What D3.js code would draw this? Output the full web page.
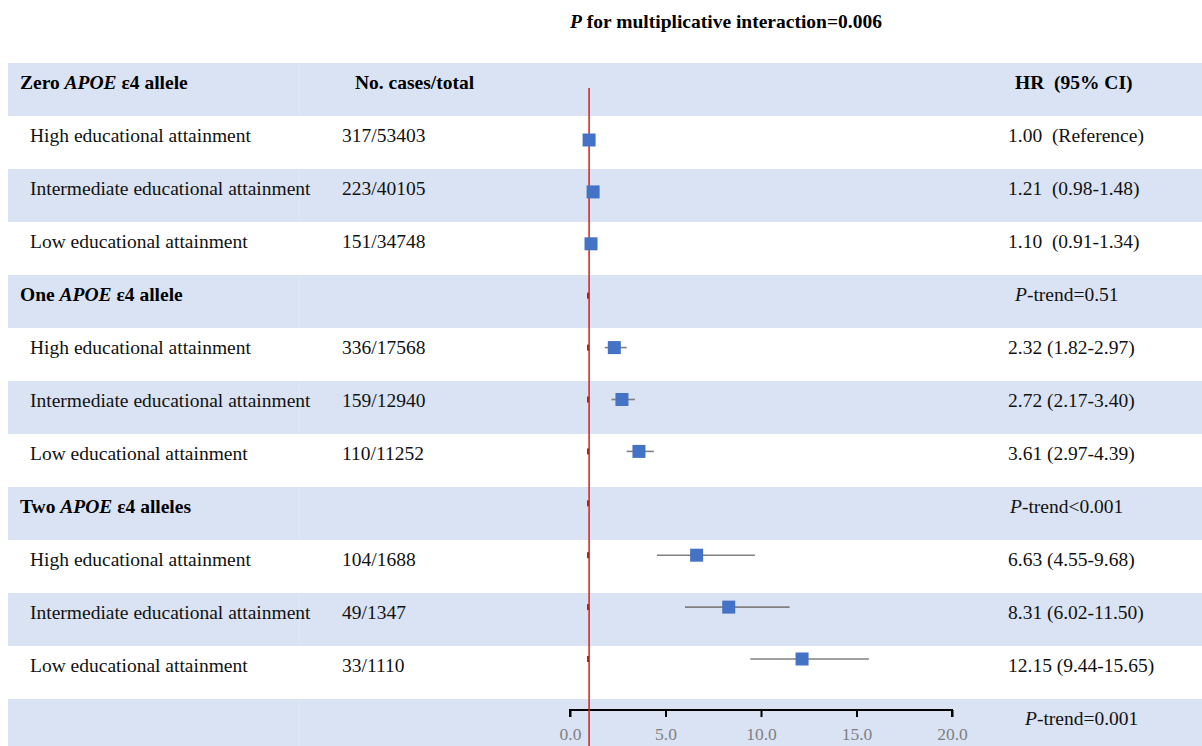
<!DOCTYPE html>
<html><head><meta charset="utf-8">
<script src="https://cdn.jsdelivr.net/npm/d3@7"></script>
<style>
html,body{margin:0;padding:0;background:#fff;}
svg text{font-family:"Liberation Serif","Times New Roman",serif;white-space:pre;}
</style></head>
<body><svg id="c" width="1202" height="746"></svg>
<script>
// ---------- data ----------
const title = "for multiplicative interaction=0.006";
const groupPrefix = ["Zero", "One", "Two"];
const groupSuffix = ["ε4 allele", "ε4 allele", "ε4 alleles"];
const levels = ["High educational attainment", "Intermediate educational attainment", "Low educational attainment"];
const cases = ["317/53403", "223/40105", "151/34748", "336/17568", "159/12940", "110/11252", "104/1688", "49/1347", "33/1110"];
const hr = [1.00, 1.21, 1.10, 2.32, 2.72, 3.61, 6.63, 8.31, 12.15];
const lower = [null, 0.98, 0.91, 1.82, 2.17, 2.97, 4.55, 6.02, 9.44];
const upper = [null, 1.48, 1.34, 2.97, 3.40, 4.39, 9.68, 11.50, 15.65];
const hrLabels = ["1.00  (Reference)", "1.21  (0.98-1.48)", "1.10  (0.91-1.34)", "2.32 (1.82-2.97)", "2.72 (2.17-3.40)", "3.61 (2.97-4.39)", "6.63 (4.55-9.68)", "8.31 (6.02-11.50)", "12.15 (9.44-15.65)"];
const pTrends = ["-trend=0.51", "-trend<0.001", "-trend=0.001"];
const xTicks = [0, 5, 10, 15, 20];
const refValue = 1;

// ---------- layout ----------
const svg = d3.select("#c");
const nRows = 13;
const rowY = d3.scaleLinear().domain([0, 12]).range([63, 699]);
const rowH = 53;
const markY = d3.scaleLinear().domain([1, 11]).range([140, 659]);
const x = d3.scaleLinear().domain([0, 20]).range([570, 952]);
const FS = 19.5;

// bands
const bandRows = d3.range(0, nRows, 2);
svg.append("g").selectAll("rect").data(bandRows).join("rect")
  .attr("x", 8).attr("y", d => rowY(d)).attr("width", 1202 - 8).attr("height", rowH)
  .attr("fill", "#dae3f3");
svg.append("g").selectAll("rect").data(bandRows).join("rect")
  .attr("x", 299).attr("y", d => rowY(d)).attr("width", 1).attr("height", rowH)
  .attr("fill", "#e0e7f5");

// title
const t = svg.append("text").attr("x", 570).attr("y", 28).attr("font-size", FS).attr("font-weight", "bold");
t.append("tspan").attr("font-style", "italic").text("P");
t.append("tspan").text(" " + title);

// header row
svg.append("text").attr("x", 355).attr("y", rowY(0) + 19).attr("dy", "0.35em")
  .attr("font-size", FS).attr("font-weight", "bold").text("No. cases/total");
svg.append("text").attr("x", 1015).attr("y", rowY(0) + 19).attr("dy", "0.35em")
  .attr("font-size", FS).attr("font-weight", "bold").text("HR  (95% CI)");

// group headers
groupPrefix.forEach((g, i) => {
  const tx = svg.append("text").attr("x", 20).attr("y", rowY(i * 4) + 19).attr("dy", "0.35em")
    .attr("font-size", FS).attr("font-weight", "bold");
  tx.append("tspan").text(g + " ");
  tx.append("tspan").attr("font-style", "italic").text("APOE");
  tx.append("tspan").text(" " + groupSuffix[i]);
});

// item rows
const items = hr.map((v, i) => ({
  i, row: Math.floor(i / 3) * 4 + (i % 3) + 1,
  label: levels[i % 3], cases: cases[i], hr: v, lo: lower[i], hi: upper[i], txt: hrLabels[i]
}));
const ig = svg.append("g");
ig.selectAll("text.lab").data(items).join("text").attr("class", "lab")
  .attr("x", 30).attr("y", d => rowY(d.row) + 19).attr("dy", "0.35em")
  .attr("font-size", FS).attr("fill", "#111").text(d => d.label);
ig.selectAll("text.cas").data(items).join("text").attr("class", "cas")
  .attr("x", 342).attr("y", d => rowY(d.row) + 19).attr("dy", "0.35em")
  .attr("font-size", FS).attr("fill", "#111").text(d => d.cases);
ig.selectAll("text.hr").data(items).join("text").attr("class", "hr")
  .attr("x", 1008).attr("y", d => rowY(d.row) + 19).attr("dy", "0.35em")
  .attr("font-size", FS).attr("fill", "#111").text(d => d.txt);

// p-trends
const ptX = [1015, 1010, 1025];
pTrends.forEach((p, i) => {
  const tx = svg.append("text").attr("x", ptX[i]).attr("y", rowY((i + 1) * 4) + 19).attr("dy", "0.35em")
    .attr("font-size", FS).attr("fill", "#111");
  tx.append("tspan").attr("font-style", "italic").text("P");
  tx.append("tspan").text(p);
});

// axis
const axisY = 710;
const ax = svg.append("g").attr("transform", `translate(0,${axisY})`)
  .call(d3.axisBottom(x).tickValues(xTicks).tickFormat(d3.format(".1f")).tickSize(7).tickPadding(11));
ax.select(".domain").attr("stroke", "#000").attr("stroke-width", 2).attr("d", `M${x(0)},7V0H${x(20)}V7`);
ax.selectAll(".tick line").attr("stroke", "#000").attr("stroke-width", 2);
ax.selectAll(".tick text").attr("font-family", "'DejaVu Serif','Liberation Serif',serif")
  .attr("font-size", 17.5).attr("fill", "#7f7f7f");

// small stubs at reference value
svg.append("g").selectAll("rect").data(d3.range(1, 12)).join("rect")
  .attr("x", x(refValue) - 2).attr("y", d => markY(d) - 3).attr("width", 2).attr("height", 6)
  .attr("fill", "#8b1a1a");

// reference line
svg.append("line").attr("x1", x(refValue)).attr("x2", x(refValue)).attr("y1", 88).attr("y2", 746)
  .attr("stroke", "#d21f1f").attr("stroke-width", 1.5);

// error bars
const pts = svg.append("g");
pts.selectAll("line").data(items.filter(d => d.lo != null)).join("line")
  .attr("x1", d => x(d.lo)).attr("x2", d => x(d.hi))
  .attr("y1", d => markY(d.row)).attr("y2", d => markY(d.row))
  .attr("stroke", "#808080").attr("stroke-width", 1.6);
// markers
const ms = 13;
pts.selectAll("rect").data(items).join("rect")
  .attr("x", d => x(d.hr) - ms / 2).attr("y", d => markY(d.row) - ms / 2)
  .attr("width", ms).attr("height", ms).attr("fill", "#4472c4");
</script></body></html>
